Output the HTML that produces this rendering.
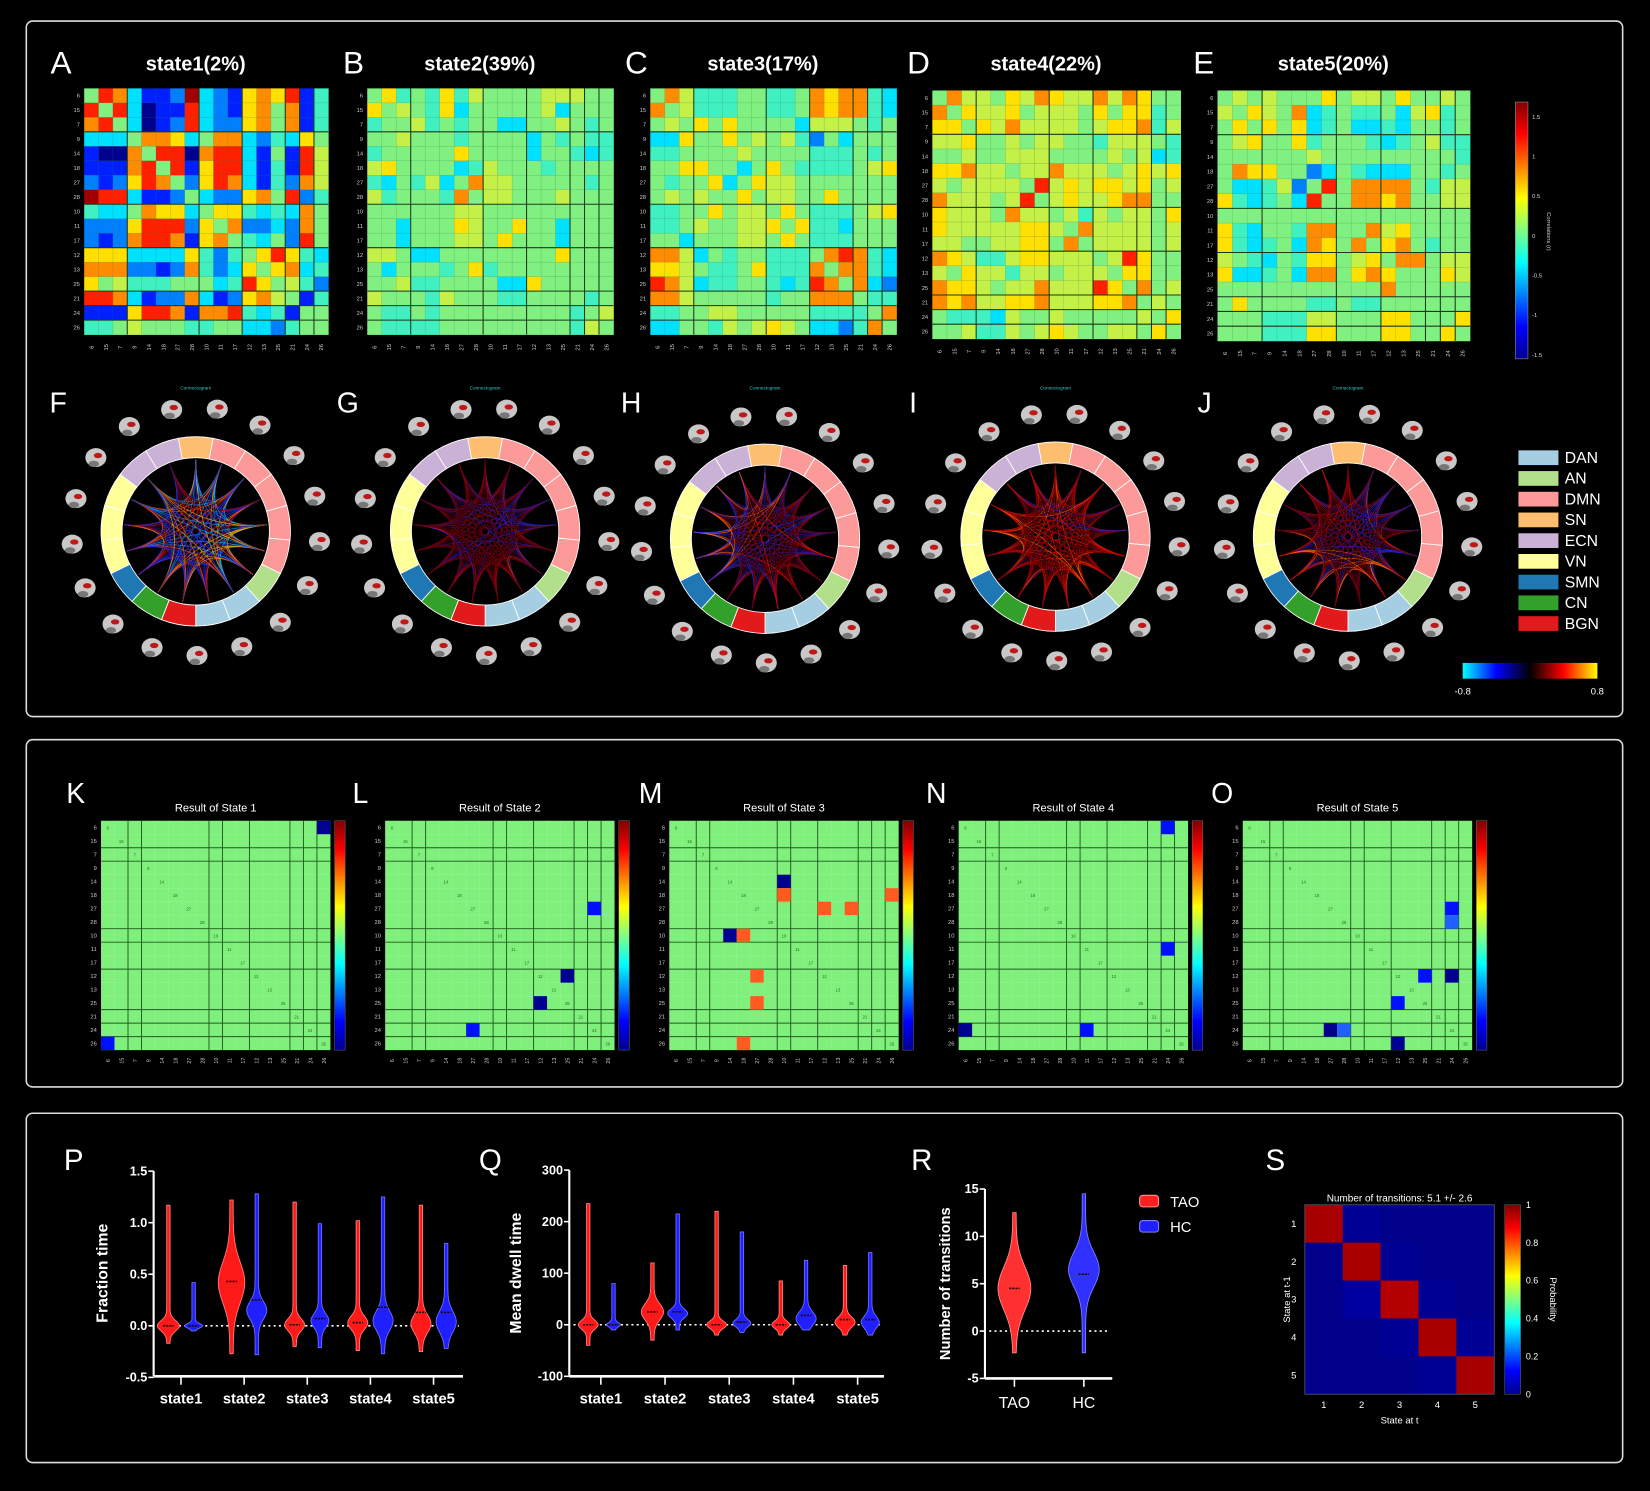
<!DOCTYPE html>
<html><head><meta charset="utf-8">
<style>
html,body{margin:0;padding:0;background:#000;}
svg{display:block;}
text{font-family:"Liberation Sans",sans-serif;}
</style></head>
<body>
<svg id="fig" xmlns="http://www.w3.org/2000/svg" width="1650" height="1491" viewBox="0 0 1568 1417" preserveAspectRatio="none">
<defs>
<linearGradient id="jetV" x1="0" y1="1" x2="0" y2="0">
<stop offset="0" stop-color="#00008f"/><stop offset="0.125" stop-color="#0000ff"/><stop offset="0.375" stop-color="#00ffff"/><stop offset="0.625" stop-color="#ffff00"/><stop offset="0.875" stop-color="#ff0000"/><stop offset="1" stop-color="#800000"/>
</linearGradient>
<linearGradient id="chordBar" x1="0" y1="0" x2="1" y2="0">
<stop offset="0" stop-color="#00ffff"/><stop offset="0.25" stop-color="#0000ff"/><stop offset="0.5" stop-color="#000000"/><stop offset="0.75" stop-color="#ff0000"/><stop offset="1" stop-color="#ffff00"/>
</linearGradient>
</defs>
<rect x="0" y="0" width="1568" height="1417" fill="#000"/>
<rect x="25" y="20" width="1517" height="661" rx="6" fill="none" stroke="#ddd" stroke-width="1.5"/>
<rect x="25" y="703" width="1517" height="330" rx="6" fill="none" stroke="#ddd" stroke-width="1.5"/>
<rect x="25" y="1058" width="1517" height="332" rx="6" fill="none" stroke="#ddd" stroke-width="1.5"/>
<g id="layer"></g>
</svg>
<script>
const NS='http://www.w3.org/2000/svg';
const layer=document.getElementById('layer');
function mk(tag,attrs,parent){const e=document.createElementNS(NS,tag);for(const k in attrs)e.setAttribute(k,attrs[k]);(parent||layer).appendChild(e);return e;}
function txt(x,y,s,size,fill,anchor,extra){const t=mk('text',Object.assign({x:x,y:y,'font-size':size,fill:fill,'text-anchor':anchor||'start'},extra||{}));t.textContent=s;return t;}

// ---------------- DATA ----------------
const nodeLabels=['6','15','7','9','14','18','27','28','10','11','17','12','13','25','21','24','26'];
const stateTitles=['state1(2%)','state2(39%)','state3(17%)','state4(22%)','state5(20%)'];
const state1Rows=["5983112a321787914","95930119321785814","89530129322785814","33358873588324375","10085990899315196","11189591799314196","21279852798314286","a9931125322785924","43358773577434385","22279992758223285","21289981785435295","77733337424579743","88822128423757834","75644455534975642","99831228312786514","11179981889434155","44565554455332455"];
const state2Rows=["57454746555566655","75654735555563555","45564545533556545","55655545555354544","45555575555355434","67555534655545555","43546358665555545","64555485665556555","55555566555555555","55355576557553555","55355566575553555","66533555555557555","53555457455555555","55644555533755555","65554655544555545","54454555555555456","54444555555555465"];
const state3Rows=["58644455445878843","85644455445878843","56575755553666545","33755756564253555","44555565555444545","55775535754444567","54557357665555555","56565575665575555","44557566575444567","44565566757443555","55355566575444555","88635455444589843","77654457444858843","98634455434985832","88655555455888544","44556655555444458","33554656765332485"];
const state4Rows=["58665768766868755","85766756665757745","77576866665677846","66755656655466654","55655666555565634","77866566866656767","65666659676776756","86665695676678855","76665866564656657","76666677658666656","66556677585666656","87644677666569755","65766466566657755","87765668666975856","87866778666778565","54443655655555657","55644656765566575"];
const state5Rows=["56565557566575565","65765834544536745","57575734533435545","56755745554345644","55555565555555554","58775523543335545","53346259588885466","74345395588785566","55555555555555555","74355488558675555","74345387585785455","65435477567588566","73345388578755576","55555555555855555","57555544544555555","55544466555775557","55544477555775575"];
const stateMatrices=[state1Rows,state2Rows,state3Rows,state4Rows,state5Rows];
const corrTicks=['1.5','1','0.5','0','-0.5','-1','-1.5'];

const networkNames=['DAN','AN','DMN','SN','ECN','VN','SMN','CN','BGN'];
const networkColors=['#a6cee3','#b2df8a','#fb9a99','#fdbf6f','#cab2d6','#ffff99','#1f78b4','#33a02c','#e31a1c'];
const ringNetworks=[3,2,1,0,8,7,6,5,4];
const ringCounts=[1,5,1,2,1,1,1,3,2];

const resultTitles=['Result of State 1','Result of State 2','Result of State 3','Result of State 4','Result of State 5'];
const resultK=[[0,16,0],[16,0,1]];
const resultL=[[6,15,1],[11,13,0],[13,11,0],[15,6,1]];
const resultM=[[4,8,0],[5,8,8],[5,16,8],[6,11,8],[6,13,8],[8,4,0],[8,5,8],[11,6,8],[13,6,8],[16,5,8]];
const resultN=[[0,15,1],[9,15,1],[15,0,0],[15,9,1]];
const resultO=[[6,15,1],[7,15,2],[11,13,1],[11,15,0],[13,11,1],[15,6,0],[15,7,2],[16,11,0]];
const resultCells=[resultK,resultL,resultM,resultN,resultO];

const stateNames=['state1','state2','state3','state4','state5'];
const fracTAO=[[-0.17,1.17,0,0,9,0.07],[-0.27,1.22,0.43,0.42,11,0.28],[-0.2,1.2,0.01,0.01,8,0.08],[-0.24,1.02,0.03,0.03,8,0.09],[-0.25,1.17,0.13,0.02,8,0.12]];
const fracHC=[[-0.05,0.42,0,0,7,0.03],[-0.28,1.28,0.25,0.15,8,0.12],[-0.21,0.99,0.07,0.05,7,0.09],[-0.27,1.25,0.18,0.05,8,0.13],[-0.22,0.8,0.13,0.04,8,0.14]];
const fracTicks=[-0.5,0,0.5,1,1.5];
const fracTickLabels=['-0.5','0.0','0.5','1.0','1.5'];
const dwellTAO=[[-40,235,0,0,8,12],[-30,120,25,25,9,22],[-20,220,0,0,8,10],[-20,85,0,0,7,10],[-20,115,10,5,8,14]];
const dwellHC=[[-10,80,0,0,5,6],[-10,215,25,22,8,12],[-15,180,5,3,7,10],[-10,125,18,12,8,18],[-20,140,10,5,7,16]];
const dwellTicks=[-100,0,100,200,300];
const dwellTickLabels=['-100','0','100','200','300'];
const transGroups=['TAO','HC'];
const transViolins=[[-2.3,12.5,4.5,4.5,14,3.2],[-2.3,14.5,6,6.5,13,2.6]];
const transTicks=[-5,0,5,10,15];
const transTickLabels=['-5','0','5','10','15'];
const transMatrix=[[0.96,0.02,0.01,0.01,0.01],[0.01,0.96,0.02,0.01,0.01],[0.01,0.03,0.95,0.02,0.01],[0.01,0.01,0.02,0.96,0.02],[0.01,0.01,0.01,0.02,0.96]];
const probTicks=[0,0.2,0.4,0.6,0.8,1];
const probTickLabels=['0','0.2','0.4','0.6','0.8','1'];

// ---------------- HELPERS ----------------
const levelColors=['#00008f','#0020ff','#0080ff','#00e0ff','#40f0c0','#80f080','#c4f048','#ffe000','#ff8c00','#ff2000','#a00000'];
function lvl(ch){return ch==='a'?10:parseInt(ch,10);}
const groupLines=[2,3,8,9,11,14,15,16];
const topGroupLines=[3,8,11,14,15,16];
function jet(v){v=Math.max(0,Math.min(1,v));
 const r=Math.max(0,Math.min(1,Math.min(4*v-1.5,-4*v+4.5)));
 const g=Math.max(0,Math.min(1,Math.min(4*v-0.5,-4*v+3.5)));
 const b=Math.max(0,Math.min(1,Math.min(4*v+0.5,-4*v+2.5)));
 return 'rgb('+Math.round(r*255)+','+Math.round(g*255)+','+Math.round(b*255)+')';}
const chordColors=['#00e0ff','#00a0ff','#2040ff','#2020e0','#301890','#600010','#a00000','#e01000','#ff6000','#ffb000','#ffff40'];

// ---------------- TOP HEATMAPS ----------------
const heatBoxes=[[80,84,232,234],[349,84,234,234],[618,84,234,234],[886,86,236,236],[1157,86,240,238]];
const panelLetters=['A','B','C','D','E'];
const letterX=[48,326,594,862,1134];
stateMatrices.forEach((rows,s)=>{
 const [bx,by,bw,bh]=heatBoxes[s];const n=rows.length;const cw=bw/n,ch=bh/n;
 const g=mk('g',{});
 
 
 const L=txt(letterX[s],70,panelLetters[s],30,'#fff','start');
 
 
 const T=txt(bx+bw/2-10,67,stateTitles[s],19,'#fff','middle',{'font-weight':'bold'});
 
 
 rows.forEach((row,r)=>{for(let c=0;c<n;c++){
  const cell=mk('rect',{x:bx+c*cw,y:by+r*ch,width:cw+0.3,height:ch+0.3,fill:levelColors[lvl(row[c])]},g);
  
  
 }});
 for(let k=1;k<n;k++){
  mk('line',{x1:bx,x2:bx+bw,y1:by+k*ch,y2:by+k*ch,stroke:'#3a7a50','stroke-width':0.3,'stroke-opacity':0.6},g);
  mk('line',{y1:by,y2:by+bh,x1:bx+k*cw,x2:bx+k*cw,stroke:'#3a7a50','stroke-width':0.3,'stroke-opacity':0.6},g);
 }
 topGroupLines.forEach(k=>{
  mk('line',{x1:bx,x2:bx+bw,y1:by+k*ch,y2:by+k*ch,stroke:'#1a3a1a','stroke-width':1},g);
  mk('line',{y1:by,y2:by+bh,x1:bx+k*cw,x2:bx+k*cw,stroke:'#1a3a1a','stroke-width':1},g);
 });
 nodeLabels.forEach((lab,i)=>{
  txt(bx-4,by+i*ch+ch/2+2,lab,5.5,'#ccc','end');
  txt(bx+i*cw+cw/2,by+bh+14,lab,5.5,'#ccc','middle',{transform:'rotate(-90 '+(bx+i*cw+cw/2)+' '+(by+bh+12)+')'});
 });
});
const cb=mk('rect',{x:1440,y:97,width:12,height:244,fill:'url(#jetV)',stroke:'#888','stroke-width':0.6});


corrTicks.forEach((t,i)=>{txt(1456,113+i*37.7,t,5.5,'#ddd','start');});
txt(1470,220,'Correlations (r)',5.5,'#ccc','middle',{transform:'rotate(90 1470 220)'});

// ---------------- CONNECTOGRAMS ----------------
const circCenters=[[186,505],[461,505],[727,512],[1003,510],[1281,510]];
const circLetters=['F','G','H','I','J'];
const circLetterX=[47,320,590,864,1138];
const R_OUT=90,R_IN=70,NN=17;
const startAng=-90-360/NN/2;
function nodeAng(k){return (startAng+(k+0.5)*360/NN)*Math.PI/180;}
stateMatrices.forEach((rows,s)=>{
 const [cx,cy]=circCenters[s];
 const g=mk('g',{});
 
 
 const L=txt(circLetterX[s],392,circLetters[s],27,'#fff','start');
 
 
 txt(cx,370,'Connectogram',4.5,'#3cc','middle');
 for(let k=0;k<17;k++){
  const a=(-90+k*360/17+10)*Math.PI/180;const bx=cx+118*Math.cos(a),by=cy+118*Math.sin(a);
  const br=mk('ellipse',{cx:bx,cy:by,rx:10,ry:9,fill:'#c8c8c8'},g);
  
  
  mk('ellipse',{cx:bx+2,cy:by-2,rx:4,ry:2.5,fill:'#c01818'},g);
  mk('ellipse',{cx:bx-2,cy:by+6,rx:5,ry:3,fill:'#777'},g);
 }
 mk('circle',{cx:cx,cy:cy,r:R_IN,fill:'#000'},g);
 const n=rows.length;
 for(let i=0;i<n;i++)for(let j=i+1;j<n;j++){
  const l=lvl(rows[i][j]);
  const a1=nodeAng(i),a2=nodeAng(j);const rr=R_IN-2;
  const p=mk('path',{d:'M'+(cx+rr*Math.cos(a1))+' '+(cy+rr*Math.sin(a1))+' Q'+cx+' '+cy+' '+(cx+rr*Math.cos(a2))+' '+(cy+rr*Math.sin(a2)),fill:'none',stroke:chordColors[l],'stroke-width':0.8,'stroke-opacity':0.75},g);
  
  
 }
 let k0=0;
 ringNetworks.forEach((net,q)=>{for(let m=0;m<ringCounts[q];m++){
  const a1=(startAng+k0*360/NN)*Math.PI/180,a2=(startAng+(k0+1)*360/NN)*Math.PI/180;
  const d='M'+(cx+R_OUT*Math.cos(a1))+' '+(cy+R_OUT*Math.sin(a1))+' A'+R_OUT+' '+R_OUT+' 0 0 1 '+(cx+R_OUT*Math.cos(a2))+' '+(cy+R_OUT*Math.sin(a2))+' L'+(cx+R_IN*Math.cos(a2))+' '+(cy+R_IN*Math.sin(a2))+' A'+R_IN+' '+R_IN+' 0 0 0 '+(cx+R_IN*Math.cos(a1))+' '+(cy+R_IN*Math.sin(a1))+'Z';
  const seg=mk('path',{d:d,fill:networkColors[net],stroke:'#fff','stroke-width':0.8},g);
  
  
  k0++;
 }});
});
networkNames.forEach((nm,i)=>{
 const y=428+i*19.7;
 const r=mk('rect',{x:1443,y:y,width:38,height:14,fill:networkColors[i]});
 
 
 const t=txt(1487,y+12,nm,15,'#fff','start');
 
 
});
const ccb=mk('rect',{x:1390,y:630,width:128,height:15,fill:'url(#chordBar)'});


txt(1390,660,'-0.8',9,'#fff','middle');txt(1518,660,'0.8',9,'#fff','middle');

// ---------------- RESULT MATRICES ----------------
const resBoxes=[[96,780],[366,780],[636,780],[911,780],[1181,780]];
const resLetters=['K','L','M','N','O'];
const resLetterX=[63,335,607,880,1151];
const RS=218;const resSpecial={0:'#000090',1:'#0010ff',2:'#2060ff',8:'#ff5a20'};
resultCells.forEach((cells,s)=>{
 const [bx,by]=resBoxes[s];const cw=RS/17;
 const g=mk('g',{});
 
 
 const L=txt(resLetterX[s],763,resLetters[s],27,'#fff','start');
 
 
 txt(bx+RS/2,771,resultTitles[s],10.5,'#fff','middle');
 mk('rect',{x:bx,y:by,width:RS,height:RS,fill:'#80f07c'},g);
 for(let k=1;k<17;k++){
  mk('line',{x1:bx,x2:bx+RS,y1:by+k*cw,y2:by+k*cw,stroke:'#a0f8a0','stroke-width':0.3},g);
  mk('line',{y1:by,y2:by+RS,x1:bx+k*cw,x2:bx+k*cw,stroke:'#a0f8a0','stroke-width':0.3},g);
 }
 groupLines.forEach(k=>{
  mk('line',{x1:bx,x2:bx+RS,y1:by+k*cw,y2:by+k*cw,stroke:'#1f5a1f','stroke-width':0.9},g);
  mk('line',{y1:by,y2:by+RS,x1:bx+k*cw,x2:bx+k*cw,stroke:'#1f5a1f','stroke-width':0.9},g);
 });
 cells.forEach(([r,c,v])=>{
  const cell=mk('rect',{x:bx+c*cw,y:by+r*cw,width:cw,height:cw,fill:resSpecial[v]},g);
  
  
 });
 nodeLabels.forEach((lab,i)=>{
  txt(bx-4,by+i*cw+cw/2+2,lab,5.5,'#ccc','end');
  txt(bx+i*cw+cw/2,by+RS+12,lab,5,'#ccc','middle',{transform:'rotate(-90 '+(bx+i*cw+cw/2)+' '+(by+RS+10)+')'});
  txt(bx+i*cw+cw/2,by+i*cw+cw/2+2,lab,4,'#2a6a2a','middle');
 });
 const bar=mk('rect',{x:bx+RS+4,y:by,width:10,height:RS,fill:'url(#jetV)',stroke:'#666','stroke-width':0.5},g);
 
 
});

// ---------------- VIOLINS ----------------
function violin(cx,spec,yf,color,lite,name){
 const [mn,mx,med,mode,w,sg]=spec;const steps=60;let L=[],R=[];
 for(let i=0;i<=steps;i++){const t=mn+(mx-mn)*i/steps;const hw=w*Math.exp(-Math.pow((t-mode)/sg,2))+1.6;
  L.push((cx-hw)+' '+yf(t));R.unshift((cx+hw)+' '+yf(t));}
 const p=mk('path',{d:'M'+L.join(' L')+' L'+R.join(' L')+'Z',fill:color,stroke:lite,'stroke-width':0.8});
 
 
 mk('line',{x1:cx-5,x2:cx+5,y1:yf(med),y2:yf(med),stroke:'#200',"stroke-width":1.5,'stroke-dasharray':'2 1'});
}
function axes(x0,x1,yTop,yBot,ticks,labels,yf,name){
 const ax=mk('line',{x1:x0,x2:x0,y1:yTop,y2:yBot,stroke:'#fff','stroke-width':2});
 
 
 const bx=mk('line',{x1:x0,x2:x1,y1:yBot,y2:yBot,stroke:'#fff','stroke-width':2.5});
 
 
 ticks.forEach((t,i)=>{mk('line',{x1:x0-5,x2:x0,y1:yf(t),y2:yf(t),stroke:'#fff','stroke-width':1.5});
  const tl=txt(x0-6,yf(t)+4,labels[i],12,'#fff','end',{'font-weight':'bold'});
  
  });
}
const yP=v=>1260-v*98;
axes(146,440,1113,1308,fracTicks,fracTickLabels,yP,'fraction');
mk('line',{x1:150,x2:436,y1:yP(0),y2:yP(0),stroke:'#fff','stroke-width':1.5,'stroke-dasharray':'2 3'});
stateNames.forEach((s,i)=>{const cx=172+i*60;
 violin(cx-12,fracTAO[i],yP,'#ff1a1a','#ff8080','violin-fraction-tao-'+s);
 violin(cx+12,fracHC[i],yP,'#2020ff','#7070ff','violin-fraction-hc-'+s);
 mk('line',{x1:cx,x2:cx,y1:1308,y2:1316,stroke:'#fff','stroke-width':1.5});
 txt(cx,1334,s,14,'#fff','middle',{'font-weight':'bold'});});
txt(102,1210,'Fraction time',15,'#fff','middle',{'font-weight':'bold',transform:'rotate(-90 102 1210)'});
txt(70,1112,'P',28,'#fff','middle');
const yQ=v=>1259-v*0.49;
axes(541,840,1112,1308,dwellTicks,dwellTickLabels,yQ,'dwell');
mk('line',{x1:545,x2:836,y1:yQ(0),y2:yQ(0),stroke:'#fff','stroke-width':1.5,'stroke-dasharray':'2 3'});
stateNames.forEach((s,i)=>{const cx=571+i*61;
 violin(cx-12,dwellTAO[i],yQ,'#ff1a1a','#ff8080','violin-dwell-tao-'+s);
 violin(cx+12,dwellHC[i],yQ,'#2020ff','#7070ff','violin-dwell-hc-'+s);
 mk('line',{x1:cx,x2:cx,y1:1308,y2:1316,stroke:'#fff','stroke-width':1.5});
 txt(cx,1334,s,14,'#fff','middle',{'font-weight':'bold'});});
txt(495,1210,'Mean dwell time',15,'#fff','middle',{'font-weight':'bold',transform:'rotate(-90 495 1210)'});
txt(466,1112,'Q',28,'#fff','middle');
const yR=v=>1265-v*9;
axes(936,1057,1130,1310,transTicks,transTickLabels,yR,'transitions');
mk('line',{x1:940,x2:1055,y1:yR(0),y2:yR(0),stroke:'#fff','stroke-width':1.5,'stroke-dasharray':'2 3'});
transGroups.forEach((g,i)=>{const cx=964+i*66;
 violin(cx,transViolins[i],yR,i===0?'#ff3030':'#3030ff',i===0?'#ff9090':'#8080ff','violin-transitions-'+g.toLowerCase());
 mk('line',{x1:cx,x2:cx,y1:1310,y2:1318,stroke:'#fff','stroke-width':1.5});
 txt(cx,1338,g,15,'#fff','middle');});
txt(903,1220,'Number of transitions',14,'#fff','middle',{'font-weight':'bold',transform:'rotate(-90 903 1220)'});
txt(876,1112,'R',28,'#fff','middle');
const lg1=mk('rect',{x:1083,y:1136,width:18,height:11,rx:3,fill:'#ff2020',stroke:'#ff9090'});


txt(1112,1147,'TAO',14,'#fff','start');
const lg2=mk('rect',{x:1083,y:1160,width:18,height:11,rx:3,fill:'#2020ff',stroke:'#8080ff'});


txt(1112,1171,'HC',14,'#fff','start');
txt(1212,1112,'S',28,'#fff','middle');
const SX=1240,SY=1145,SS=180,sc=SS/5;
transMatrix.forEach((row,r)=>row.forEach((v,c)=>{
 const cell=mk('rect',{x:SX+c*sc,y:SY+r*sc,width:sc+0.3,height:sc+0.3,fill:jet(v)});
 
 }));
mk('rect',{x:SX,y:SY,width:SS,height:SS,fill:'none',stroke:'#557','stroke-width':0.8});
txt(SX+SS/2,1142,'Number of transitions: 5.1 +/- 2.6',9.5,'#fff','middle');
for(let i=0;i<5;i++){txt(SX-8,SY+i*sc+sc/2+3,String(i+1),9,'#fff','end');txt(SX+i*sc+sc/2,SY+SS+13,String(i+1),9,'#fff','middle');}
txt(1226,SY+SS/2,'State at t-1',9,'#fff','middle',{transform:'rotate(-90 1226 '+(SY+SS/2)+')'});
txt(SX+SS/2,1353,'State at t',9,'#fff','middle');
const sbar=mk('rect',{x:1430,y:SY,width:15,height:SS,fill:'url(#jetV)',stroke:'#666','stroke-width':0.5});


probTicks.forEach((t,i)=>{txt(1450,SY+SS-t*SS+3,probTickLabels[i],8.5,'#fff','start');});
txt(1473,SY+SS/2,'Probability',9,'#fff','middle',{transform:'rotate(90 1473 '+(SY+SS/2)+')'});
</script>
</body></html>
